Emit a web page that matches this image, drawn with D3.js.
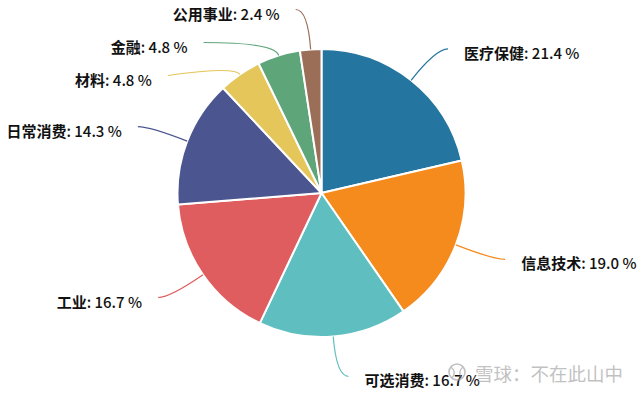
<!DOCTYPE html>
<html><head><meta charset="utf-8">
<script src="https://cdn.jsdelivr.net/npm/d3@7"></script>
<style>html,body{margin:0;padding:0;background:#fff;}svg{display:block;}</style>
</head><body>
<svg id="chart" width="640" height="393"></svg>
<script>
const categories = ["医疗保健","信息技术","可选消费","工业","日常消费","材料","金融","公用事业"];
const values = [21.4, 19.0, 16.7, 16.7, 14.3, 4.8, 4.8, 2.4];
const labelsText = ["21.4 %","19.0 %","16.7 %","16.7 %","14.3 %","4.8 %","4.8 %","2.4 %"];
const colors = ["#24759f","#f58a1d","#5fbec0","#df5c5f","#4b5590","#e4c65a","#5fa57a","#9b6e57"];

const W = 640, H = 393, cx = 321.5, cy = 193, r = 144;
const len1 = 40, len2 = 12, gap = 16, minSpace = 33, topLimit = 6;
const svg = d3.select("#chart");
const g = svg.append("g").attr("transform", `translate(${cx},${cy})`);

const data = categories.map((c,i)=>({name:c, value:values[i], label:labelsText[i], color:colors[i]}));
const pie = d3.pie().sort(null).value(d=>d.value);
const arcs = pie(data);
const arc = d3.arc().innerRadius(0).outerRadius(r);

g.selectAll("path.slice").data(arcs).join("path")
  .attr("class","slice")
  .attr("d", arc)
  .attr("fill", d=>d.data.color)
  .attr("stroke","#fff").attr("stroke-width",2).attr("stroke-linejoin","round");

// label layout
const R2 = r + len1;
const items = arcs.map(a=>{
  const m = (a.startAngle + a.endAngle)/2;
  const s = Math.sin(m), c = Math.cos(m);
  return {a, m, s, c, side: s >= 0 ? 1 : -1, y: -R2*c};
});
["left","right"].forEach(sd=>{
  const list = items.filter(it => (sd==="right") === (it.side===1)).sort((p,q)=>p.y-q.y);
  let prev = -Infinity;
  list.forEach(it=>{
    let y = Math.max(it.y, prev + minSpace, topLimit - cy);
    it.y = y; prev = y;
  });
});
items.forEach(it=>{
  const p0 = [r*it.s, -r*it.c];
  let t = (-it.y)/it.c;
  if (!(t>0) || !isFinite(t)) t = R2;
  t = Math.max(r+10, Math.min(R2, t));
  const p1 = [t*it.s, -t*it.c];
  const dx = Math.sqrt(Math.max(0, R2*R2 - it.y*it.y));
  const ex = it.side*dx + it.side*len2;
  const p2 = [ex, it.y];
  it.p0=p0; it.p1=p1; it.p2=p2;
});

g.selectAll("path.lead").data(items).join("path")
  .attr("class","lead")
  .attr("d", it=>`M${it.p0[0]},${it.p0[1]} Q${it.p1[0]},${it.p1[1]} ${it.p2[0]},${it.p2[1]}`)
  .attr("fill","none").attr("stroke", it=>it.a.data.color).attr("stroke-width",1.2);

const txt = g.selectAll("text.lbl").data(items).join("text")
  .attr("class","lbl")
  .attr("x", it=>it.p2[0] + it.side*gap)
  .attr("y", it=>it.p2[1] + 3)
  .attr("text-anchor", it=>it.side===1?"start":"end")
  .attr("dominant-baseline","central")
  .attr("font-family","'Noto Sans CJK SC', 'Noto Sans', sans-serif")
  .attr("font-size",15)
  .attr("fill","#111");
txt.append("tspan").attr("font-weight",700).text(it=>it.a.data.name);
txt.append("tspan").attr("font-weight",500).text(it=>": " + it.a.data.label);

// watermark
const wm = svg.append("g").attr("opacity",0.6);
wm.append("circle").attr("cx",457).attr("cy",372).attr("r",8)
  .attr("fill","none").attr("stroke","#999").attr("stroke-width",1.6);
wm.append("path").attr("d","M451,367 Q457,372 452,378 M463,367 Q457,372 462,378")
  .attr("fill","none").attr("stroke","#999").attr("stroke-width",1.4);
wm.append("text").attr("x",475).attr("y",373).attr("dominant-baseline","central")
  .attr("font-family","'Noto Sans CJK SC', sans-serif").attr("font-size",18.5)
  .attr("fill","#999")
  .text("雪球：不在此山中");
</script>
</body></html>
